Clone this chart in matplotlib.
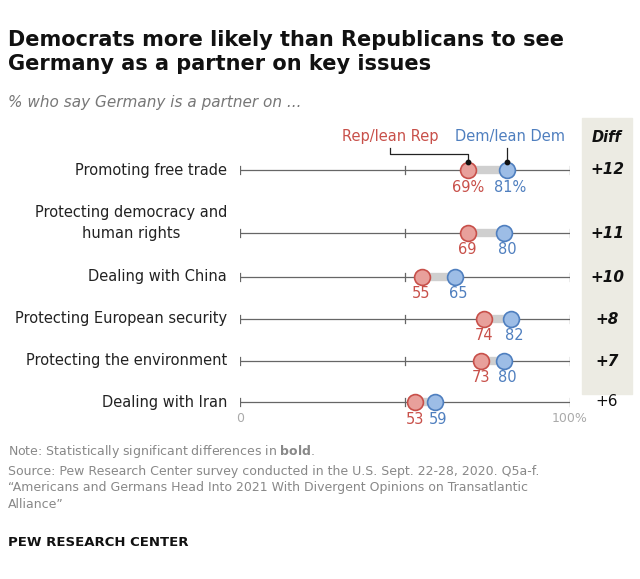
import matplotlib
matplotlib.use("Agg")
import matplotlib.pyplot as plt

categories = ["Promoting free trade", "Protecting democracy and\nhuman rights",
              "Dealing with China", "Protecting European security",
              "Protecting the environment", "Dealing with Iran"]
rep = [69, 69, 55, 74, 73, 53]
dem = [81, 80, 65, 82, 80, 59]
diff = ["+12", "+11", "+10", "+8", "+7", "+6"]
bold = [True, True, True, True, True, False]
rows_y = [170, 233, 277, 319, 361, 402]
label_y = [170, 223, 277, 319, 361, 402]

RED = "#c8504a"; REDF = "#e8a09b"
BLUE = "#4f7fbf"; BLUEF = "#9dbde6"

W, H = 640, 579
fig = plt.figure(figsize=(W/100, H/100), dpi=100)
fig.patch.set_facecolor("white")
ax = fig.add_axes([240/W, 0, 330/W, 1])
ax.set_xlim(0, 100)
ax.set_ylim(H, 0)
ax.axis("off")
px = 100/330  # data units per pixel in x

bg = plt.Rectangle(((582-240)*px, 118), 50*px, 276, color="#ecebe3", zorder=0, clip_on=False)
ax.add_patch(bg)
ax.text((607-240)*px, 137, "Diff", ha="center", va="center", fontsize=10.5, fontweight="bold",
        style="italic", color="#111")

for i, (c, r, d, df, b, y, ly) in enumerate(zip(categories, rep, dem, diff, bold, rows_y, label_y)):
    ax.plot([0, 100], [y, y], color="#666", lw=0.9, zorder=1)
    for t in (0, 50, 100):
        ax.plot([t, t], [y-4, y+4], color="#666", lw=0.9, zorder=1)
    ax.plot([r, d], [y, y], color="#cfcfcf", lw=6, solid_capstyle="butt", zorder=2)
    ax.scatter([r], [y], s=130, color=REDF, edgecolor=RED, lw=1.2, zorder=3)
    ax.scatter([d], [y], s=130, color=BLUEF, edgecolor=BLUE, lw=1.2, zorder=3)
    rl = f"{r}%" if i == 0 else f"{r}"
    dl = f"{d}%" if i == 0 else f"{d}"
    ax.text(r, y+17, rl, ha="center", va="center", color=RED, fontsize=10.5)
    ax.text(d+1, y+17, dl, ha="center", va="center", color=BLUE, fontsize=10.5)
    ax.text(-13*px, ly, c, ha="right", va="center", fontsize=10.5, color="#222",
            multialignment="center", linespacing=1.5)
    ax.text((607-240)*px, y, df, ha="center", va="center", fontsize=11,
            fontweight="bold" if b else "normal", style="italic" if b else "normal", color="#111")

# legend annotations
ax.text((390-240)*px, 137, "Rep/lean Rep", ha="center", va="center", color=RED, fontsize=10.5)
ax.text((510-240)*px, 137, "Dem/lean Dem", ha="center", va="center", color=BLUE, fontsize=10.5)
ax.plot([(390-240)*px, (390-240)*px, rep[0], rep[0]], [148, 154, 154, 162], color="#222", lw=0.9)
ax.scatter([rep[0]], [162], s=10, color="#111", zorder=4)
ax.plot([dem[0], dem[0]], [148, 162], color="#222", lw=0.9)
ax.scatter([dem[0]], [162], s=10, color="#111", zorder=4)

ax.text(0, 418, "0", ha="center", va="center", fontsize=9, color="#aaa")
ax.text(100, 418, "100%", ha="center", va="center", fontsize=9, color="#aaa")

fig.text(8/W, 1-52/H, "Democrats more likely than Republicans to see\nGermany as a partner on key issues",
         ha="left", va="center", fontsize=15, fontweight="bold", color="#111", linespacing=1.2)
fig.text(8/W, 1-103/H, "% who say Germany is a partner on ...", ha="left", va="center",
         fontsize=11, style="italic", color="#777")
fig.text(8/W, 1-452/H, "Note: Statistically significant differences in $\\bf{bold}$.", ha="left",
         va="center", fontsize=9, color="#888")
fig.text(8/W, 1-488/H, "Source: Pew Research Center survey conducted in the U.S. Sept. 22-28, 2020. Q5a-f.\n"
         "\u201cAmericans and Germans Head Into 2021 With Divergent Opinions on Transatlantic\nAlliance\u201d",
         ha="left", va="center", fontsize=9, color="#888", linespacing=1.3)
fig.text(8/W, 1-542/H, "PEW RESEARCH CENTER", ha="left", va="center", fontsize=9.5,
         fontweight="bold", color="#111")
fig.savefig("out.png", dpi=100)
